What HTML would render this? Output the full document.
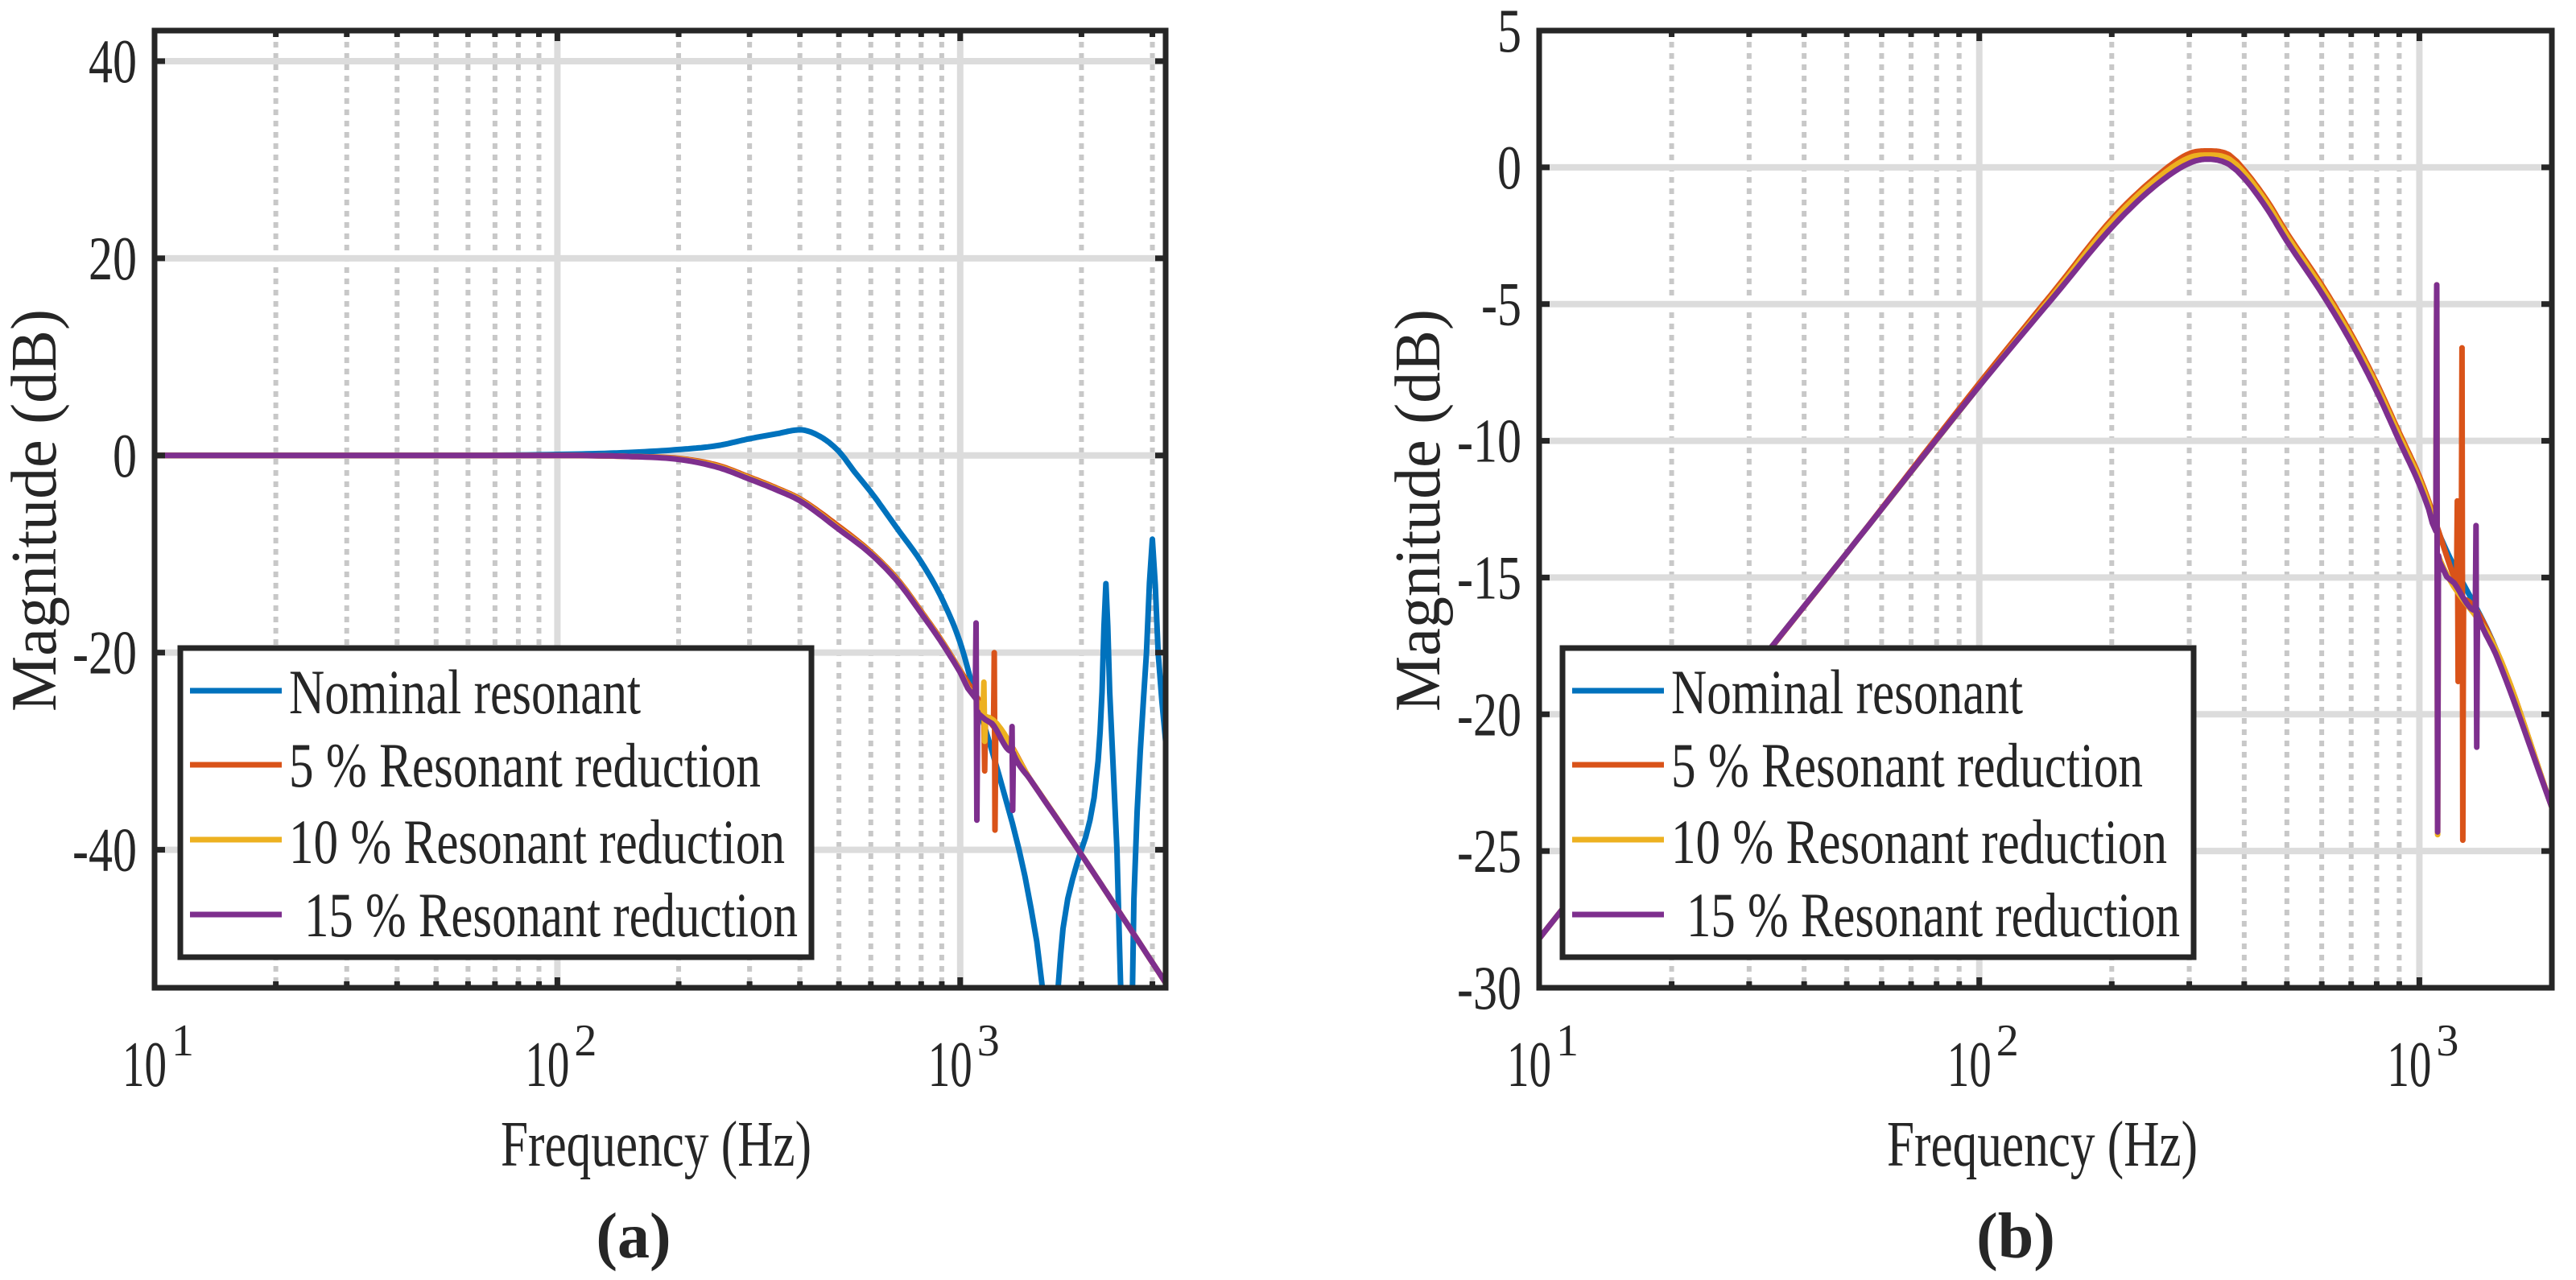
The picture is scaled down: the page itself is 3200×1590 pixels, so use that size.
<!DOCTYPE html>
<html><head><meta charset="utf-8"><style>
html,body{margin:0;padding:0;background:#fff;}
svg{display:block;}
text{font-family:"Liberation Serif",serif;fill:#262626;}
</style></head><body>
<svg id="fig" width="3200" height="1590" viewBox="0 0 3200 1590" xmlns="http://www.w3.org/2000/svg"></svg>
<script>
// ---------- Panel (a) data ----------
const nomA_f = [10,50,100,150,200,250,300,350,400,450,500,550,600,700,800,900,1000,1100,1200,1300,1400,1500,1600,1650,1700,1750,1800,1900,2000,2100,2200,2250,2300,2350,2450,2550,2650,2700,2800,2900,3000,3100,3236];
const nomA_v = [0,0,0.1,0.3,0.6,1.0,1.7,2.2,2.6,1.9,0.4,-1.8,-3.7,-7.5,-10.8,-14.5,-19,-25,-30,-35,-40,-46,-54,-62,-62,-54,-48,-43,-40,-37,-31,-24,-13,-24,-40,-62,-62,-45,-30,-20,-8.5,-20,-29];
const r5A_f = [10,100,150,200,250,300,350,400,500,600,700,800,900,1000,1100,1140,1145,1150,1155,1160,1210,1215,1220,1225,1230,1500,2000,2500,3236];
const r5A_v = [0,0,-0.1,-0.3,-1.0,-2.2,-3.3,-4.4,-7.2,-9.8,-12.6,-15.8,-18.8,-21.8,-24.5,-25.5,-26,-32,-27,-26.5,-27.5,-20,-38,-28,-28,-33,-40.5,-46.5,-53.5];
const r10A_f = [10,100,150,200,250,300,350,400,500,600,700,800,900,1000,1090,1095,1100,1105,1140,1145,1150,1155,1500,2000,2500,3236];
const r10A_v = [0,0,-0.1,-0.35,-1.1,-2.3,-3.4,-4.5,-7.4,-9.9,-12.7,-15.9,-18.9,-21.9,-24.5,-22,-30,-25,-26,-23,-29,-26.5,-33,-40.5,-46.5,-53.5];
const r15A_f = [10,100,150,200,250,300,350,400,500,600,700,800,900,1000,1090,1095,1100,1105,1110,1200,1340,1345,1350,1355,1360,1500,2000,2500,3236];
const r15A_v = [0,0,-0.1,-0.4,-1.2,-2.4,-3.5,-4.6,-7.5,-10,-12.8,-16,-19,-22,-24.6,-17,-37,-26,-26.2,-27.2,-30,-27.5,-36,-30.2,-30.4,-33,-40.5,-46.5,-53.5];
// ---------- Panel (b) data ----------
const nomB_f = [10,20,50,100,150,200,250,300,330,370,400,450,500,600,700,800,900,1000,1050,1090,1500,2000];
const nomB_v = [-28.2,-22.1,-14.1,-8.0,-4.5,-2.0,-0.5,0.35,0.45,0.3,-0.2,-1.3,-2.5,-4.4,-6.2,-8.0,-9.8,-11.4,-12.3,-13.1,-17.7,-23.4];
const r5B_f = [10,20,50,100,150,200,250,300,330,370,400,450,500,600,700,800,900,1000,1050,1090,1200,1215,1220,1225,1230,1245,1250,1255,1260,1500,2000];
const r5B_v = [-28.2,-22.1,-14.1,-7.9,-4.4,-1.9,-0.4,0.5,0.6,0.45,-0.1,-1.2,-2.4,-4.3,-6.1,-7.9,-9.7,-11.3,-12.2,-13.0,-15,-15.2,-12.2,-18.8,-15.5,-15.6,-6.6,-24.6,-15.8,-17.7,-23.4];
const r10B_f = [10,20,50,100,150,200,250,300,330,370,400,450,500,600,700,800,900,1000,1050,1090,1095,1100,1105,1110,1500,2000];
const r10B_v = [-28.2,-22.1,-14.1,-8.0,-4.5,-2.0,-0.5,0.35,0.45,0.3,-0.2,-1.3,-2.5,-4.4,-6.2,-8.0,-9.8,-11.4,-12.3,-13.1,-4.3,-24.4,-14.2,-14.3,-17.7,-23.4];
const r15B_f = [10,20,50,100,150,200,250,300,330,370,400,450,500,600,700,800,900,1000,1050,1090,1095,1100,1105,1110,1200,1340,1345,1350,1355,1360,1500,2000];
const r15B_v = [-28.2,-22.1,-14.1,-8.0,-4.6,-2.2,-0.7,0.15,0.3,0.1,-0.4,-1.5,-2.7,-4.6,-6.4,-8.2,-10,-11.6,-12.5,-13.3,-4.3,-24.3,-14.2,-14.4,-15.2,-16.2,-13.1,-21.2,-16.3,-16.4,-17.9,-23.4];
// ---------- Ticks / labels ----------
const yTicksA = [40,20,0,-20,-40];
const yTicksB = [5,0,-5,-10,-15,-20,-25,-30];
const xDecades = [1,2,3];
const legendLabels = ["Nominal resonant","5 % Resonant reduction","10 % Resonant reduction"," 15 % Resonant reduction"];
const seriesColors = ["#0072BD","#D95319","#EDB120","#7E2F8E"];

const NS = "http://www.w3.org/2000/svg";
const svg = document.getElementById("fig");
function mk(tag, attrs, parent){
  const e = document.createElementNS(NS, tag);
  for (const k in attrs) e.setAttribute(k, attrs[k]);
  (parent||svg).appendChild(e);
  return e;
}
// monotone cubic (Fritsch-Carlson) smoothing in screen space
function smooth(xs, ys){
  const n = xs.length;
  if (n < 3) return xs.map((x,i)=>[x,ys[i]]);
  const d = [], m = new Array(n);
  for (let i=0;i<n-1;i++){ const h = xs[i+1]-xs[i]; d.push(h>0 ? (ys[i+1]-ys[i])/h : 0); }
  m[0]=d[0]; m[n-1]=d[n-2];
  for (let i=1;i<n-1;i++){ m[i] = (d[i-1]*d[i] <= 0) ? 0 : (d[i-1]+d[i])/2; }
  for (let i=0;i<n-1;i++){
    if (d[i]===0){ m[i]=0; m[i+1]=0; continue; }
    const a=m[i]/d[i], b=m[i+1]/d[i], s=a*a+b*b;
    if (s>9){ const t=3/Math.sqrt(s); m[i]=t*a*d[i]; m[i+1]=t*b*d[i]; }
  }
  const out=[];
  for (let i=0;i<n-1;i++){
    const h = xs[i+1]-xs[i];
    const steps = h>20 ? 12 : 2;
    for (let k=0;k<steps;k++){
      const t=k/steps, t2=t*t, t3=t2*t;
      const y = (2*t3-3*t2+1)*ys[i] + (t3-2*t2+t)*h*m[i] + (-2*t3+3*t2)*ys[i+1] + (t3-t2)*h*m[i+1];
      out.push([xs[i]+t*h, y]);
    }
  }
  out.push([xs[n-1], ys[n-1]]);
  return out;
}

function panel(cfg){
  const g = mk("g", {});
  
  
  const {x0,x1,y0,y1,fmin,fmax,vmin,vmax} = cfg;
  const X = f => x0 + (Math.log10(f)-Math.log10(fmin))/(Math.log10(fmax)-Math.log10(fmin))*(x1-x0);
  const Y = v => y1 - (v-vmin)/(vmax-vmin)*(y1-y0);
  const clipId = cfg.name + "-clip";
  const cp = mk("clipPath", {id: clipId}, g);
  mk("rect", {x:x0, y:y0, width:x1-x0, height:y1-y0}, cp);
  for (let d = Math.floor(Math.log10(fmin)); d <= Math.ceil(Math.log10(fmax)); d++){
    for (let m = 2; m <= 9; m++){
      const f = m*Math.pow(10,d);
      if (f <= fmin || f >= fmax) continue;
      const l = mk("line", {x1:X(f), x2:X(f), y1:y0, y2:y1, stroke:"#c8c8c8", "stroke-width":6, "stroke-dasharray":"7 7"}, g);
      
      
    }
  }
  xDecades.forEach(d => {
    const f = Math.pow(10,d);
    if (f <= fmin || f >= fmax) return;
    const l = mk("line", {x1:X(f), x2:X(f), y1:y0, y2:y1, stroke:"#dcdcdc", "stroke-width":8}, g);
    
    
  });
  cfg.yTicks.forEach(v => {
    if (v <= vmin || v >= vmax) return;
    const l = mk("line", {x1:x0, x2:x1, y1:Y(v), y2:Y(v), stroke:"#dcdcdc", "stroke-width":8}, g);
    
    
  });
  const sg = mk("g", {"clip-path":"url(#"+clipId+")"}, g);
  cfg.series.forEach((s,i) => {
    const xs = s.f.map(X), ys = s.v.map(Y);
    const pts = smooth(xs, ys).map(p => p[0].toFixed(1)+","+p[1].toFixed(1)).join(" ");
    const p = mk("polyline", {points:pts, fill:"none", stroke:seriesColors[i], "stroke-width":7, "stroke-linejoin":"round"}, sg);
    
    
  });
  cfg.yTicks.forEach(v => {
    const y = Y(v);
    mk("line", {x1:x0, x2:x0+13, y1:y, y2:y, stroke:"#262626", "stroke-width":7}, g);
    mk("line", {x1:x1-13, x2:x1, y1:y, y2:y, stroke:"#262626", "stroke-width":7}, g);
    const s = String(v);
    const w = s.length*30 + (s[0]==="-"?-10:0);
    const t = mk("text", {x:cfg.yLabelRight, y:y+26, "text-anchor":"end", "font-size":77, textLength:w, lengthAdjust:"spacingAndGlyphs"}, g);
    t.textContent = s;
    
    
  });
  for (let d = Math.floor(Math.log10(fmin)); d <= Math.ceil(Math.log10(fmax)); d++){
    for (let m = 1; m <= 9; m++){
      const f = m*Math.pow(10,d);
      if (f < fmin || f > fmax) continue;
      const len = m===1 ? 13 : 8;
      mk("line", {x1:X(f), x2:X(f), y1:y1-len, y2:y1, stroke:"#262626", "stroke-width":7}, g);
      mk("line", {x1:X(f), x2:X(f), y1:y0, y2:y0+len, stroke:"#262626", "stroke-width":7}, g);
    }
  }
  xDecades.forEach(d => {
    const x = X(Math.pow(10,d));
    const t = mk("text", {x:x-40, y:1349, "font-size":80, textLength:55, lengthAdjust:"spacingAndGlyphs"}, g);
    t.textContent = "10";
    
    
    const s = mk("text", {x:x+21, y:1311, "font-size":56}, g);
    s.textContent = String(d);
    
    
  });
  const fr = mk("rect", {x:x0, y:y0, width:x1-x0, height:y1-y0, fill:"none", stroke:"#262626", "stroke-width":7}, g);
  
  
  const xt = mk("text", {x:cfg.xTitleX, y:1448, "font-size":80, textLength:386, lengthAdjust:"spacingAndGlyphs"}, g);
  xt.textContent = "Frequency (Hz)";
  
  
  const yt = mk("text", {x:0, y:0, "font-size":80, "text-anchor":"middle", textLength:500, lengthAdjust:"spacingAndGlyphs", transform:"translate("+cfg.yTitleX+",634) rotate(-90)"}, g);
  yt.textContent = "Magnitude (dB)";
  
  
  const lg = mk("g", {}, g);
  
  
  mk("rect", {x:cfg.lx, y:805, width:784, height:384, fill:"#fff", stroke:"#262626", "stroke-width":7}, lg);
  const lineYs = [858,950,1043,1136];
  const baseYs = [886,977,1072,1163];
  const lens = [437,586,616,613];
  legendLabels.forEach((lab,i) => {
    const e = mk("g", {}, lg);
    
    
    mk("line", {x1:cfg.lx+12, x2:cfg.lx+126, y1:lineYs[i], y2:lineYs[i], stroke:seriesColors[i], "stroke-width":7}, e);
    const startX = cfg.lx + 135 + (i===3 ? 19 : 0);
    const t = mk("text", {x:startX, y:baseYs[i], "font-size":78, textLength:lens[i], lengthAdjust:"spacingAndGlyphs"}, e);
    t.textContent = lab.trim();
    
    
  });
  const c = mk("text", {x:cfg.capX, y:1562, "font-size":80, "font-weight":"bold", "text-anchor":"middle"}, g);
  c.textContent = cfg.cap;
  
  
}

panel({name:"panel-a", x0:192, x1:1448, y0:38, y1:1227, fmin:10, fmax:3236, vmin:-54, vmax:43.1,
  yTicks:yTicksA, yLabelRight:170, xTitleX:622, yTitleX:69, lx:224, capX:787, cap:"(a)",
  series:[{name:"nominal-resonant-line",f:nomA_f,v:nomA_v},{name:"reduction-5-line",f:r5A_f,v:r5A_v},{name:"reduction-10-line",f:r10A_f,v:r10A_v},{name:"reduction-15-line",f:r15A_f,v:r15A_v}]});
panel({name:"panel-b", x0:1912, x1:3170, y0:38, y1:1227, fmin:10, fmax:2000, vmin:-30, vmax:5,
  yTicks:yTicksB, yLabelRight:1890, xTitleX:2344, yTitleX:1788, lx:1941, capX:2504, cap:"(b)",
  series:[{name:"nominal-resonant-line",f:nomB_f,v:nomB_v},{name:"reduction-5-line",f:r5B_f,v:r5B_v},{name:"reduction-10-line",f:r10B_f,v:r10B_v},{name:"reduction-15-line",f:r15B_f,v:r15B_v}]});
</script>
</body></html>
